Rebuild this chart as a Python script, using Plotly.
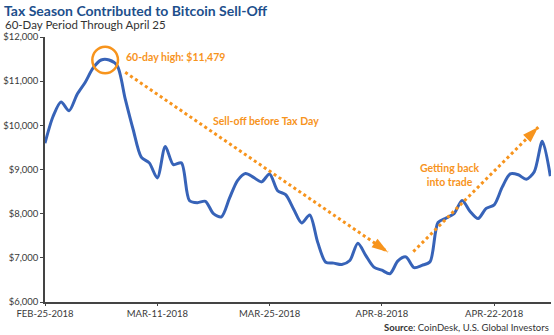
import plotly.graph_objects as go
import pandas as pd
import math

# ---- data ----
start_date = "2018-02-25"
prices = [9596, 10200, 10530, 10330, 10700, 10970, 11300, 11479, 11479, 11350,
          10600, 9900, 9280, 9150, 8810, 9520, 9110, 9150, 8300, 8250,
          8280, 8000, 7930, 8350, 8750, 8910, 8820, 8720, 8900, 8520,
          8430, 8100, 7790, 7970, 7350, 6900, 6880, 6850, 6940, 7330,
          7050, 6790, 6720, 6640, 6930, 7020, 6780, 6830, 6910, 7800,
          7900, 8000, 8300, 8050, 7890, 8120, 8200, 8600, 8900, 8880,
          8780, 8950, 9640, 8850]
dates = pd.date_range(start_date, periods=len(prices), freq="D")

tick_dates = ["2018-02-25", "2018-03-11", "2018-03-25", "2018-04-08", "2018-04-22"]
tick_labels = ["FEB-25-2018", "MAR-11-2018", "MAR-25-2018", "APR-8-2018", "APR-22-2018"]
y_ticks = [6000, 7000, 8000, 9000, 10000, 11000, 12000]
y_labels = ["$6,000", "$7,000", "$8,000", "$9,000", "$10,000", "$11,000", "$12,000"]

high_value = 11479
high_label = "60-day high: $11,479"

# annotation arrows (date, value)
selloff_arrow = [("2018-03-07 00:00", 11200), ("2018-04-08 18:00", 7130)]
recovery_arrow = [("2018-04-11 22:00", 7140), ("2018-04-27 12:00", 9960)]

BLUE = "#3763b8"
ORANGE = "#f7941d"
TXT = "#3a3a3a"
FONT = "Lato"

fig = go.Figure()

fig.add_trace(go.Scatter(
    x=dates, y=prices, mode="lines",
    line=dict(color=BLUE, width=3, shape="spline", smoothing=0.8),
    hoverinfo="skip", showlegend=False))

x0 = pd.Timestamp(start_date)
def px(d, v):
    t = (pd.Timestamp(d) - x0) / pd.Timedelta(days=1)
    return 43.5 + 8.045 * t, 37.3 + (12000 - v) / 1000 * 44.15

for arr in (selloff_arrow, recovery_arrow):
    xs = [a[0] for a in arr]
    ys = [a[1] for a in arr]
    (ax, ay), (bx, by) = px(*arr[0]), px(*arr[1])
    ang = math.degrees(math.atan2(bx - ax, -(by - ay)))
    fig.add_trace(go.Scatter(
        x=xs, y=ys, mode="lines", line=dict(color=ORANGE, width=3, dash="dot"),
        hoverinfo="skip", showlegend=False))
    fig.add_trace(go.Scatter(
        x=[xs[-1]], y=[ys[-1]], mode="markers",
        marker=dict(symbol="arrow", size=17, color=ORANGE, angle=ang),
        hoverinfo="skip", showlegend=False))

# circle at the high
hi_idx = prices.index(high_value)
hi_center = dates[hi_idx] + pd.Timedelta(hours=12)
rx = pd.Timedelta(days=1.6)
ry = 300
fig.add_shape(type="circle", xref="x", yref="y",
              x0=hi_center - rx, x1=hi_center + rx,
              y0=high_value - ry, y1=high_value + ry,
              line=dict(color=ORANGE, width=2.5))

fig.add_annotation(x=hi_center + pd.Timedelta(days=2.3), y=high_value + 60, xref="x", yref="y",
                   text="<b>" + high_label + "</b>", showarrow=False, xanchor="left",
                   font=dict(family=FONT, size=10.5, color=ORANGE))
fig.add_annotation(x="2018-03-24 12:00", y=10100, xref="x", yref="y",
                   text="<b>Sell-off before Tax Day</b>", showarrow=False,
                   font=dict(family=FONT, size=10.5, color=ORANGE))
fig.add_annotation(x="2018-04-16 12:00", y=8870, xref="x", yref="y",
                   text="<b>Getting back<br>into trade</b>", showarrow=False,
                   font=dict(family=FONT, size=10.5, color=ORANGE))

# titles
fig.add_annotation(xref="paper", yref="paper", x=-43 / 508, y=1 + 27 / 265,
                   xanchor="left", yanchor="middle", showarrow=False,
                   text="<b>Tax Season Contributed to Bitcoin Sell-Off</b>",
                   font=dict(family=FONT, size=14, color="#1d4f8c"))
fig.add_annotation(xref="paper", yref="paper", x=-42 / 508, y=1 + 13 / 265,
                   xanchor="left", yanchor="middle", showarrow=False,
                   text="60-Day Period Through April 25",
                   font=dict(family=FONT, size=11.5, color="#333333"))
fig.add_annotation(xref="paper", yref="paper", x=1, y=-25.5 / 265,
                   xanchor="right", yanchor="middle", showarrow=False,
                   text="<b>Source</b>: CoinDesk, U.S. Global Investors",
                   font=dict(family=FONT, size=9.5, color="#333333"))

end_date = x0 + pd.Timedelta(days=(551 - 43.5) / 8.045)
fig.update_xaxes(type="date", range=[x0, end_date],
                 tickvals=tick_dates, ticktext=tick_labels,
                 showgrid=False, zeroline=False, showline=True,
                 linecolor="#444444", linewidth=1.5,
                 ticks="outside", ticklen=2, tickcolor="#444444",
                 tickfont=dict(family=FONT, size=9.5, color=TXT))
fig.update_yaxes(range=[6000, 12000], tickvals=y_ticks, ticktext=y_labels,
                 showgrid=False, zeroline=False, showline=True,
                 linecolor="#444444", linewidth=1.5,
                 ticks="outside", ticklen=3, tickcolor="#444444",
                 tickfont=dict(family=FONT, size=9.5, color=TXT))

fig.update_layout(width=554, height=335,
                  margin=dict(l=43, r=3, t=37, b=33),
                  plot_bgcolor="white", paper_bgcolor="white",
                  showlegend=False)

fig.write_html("out.html")
